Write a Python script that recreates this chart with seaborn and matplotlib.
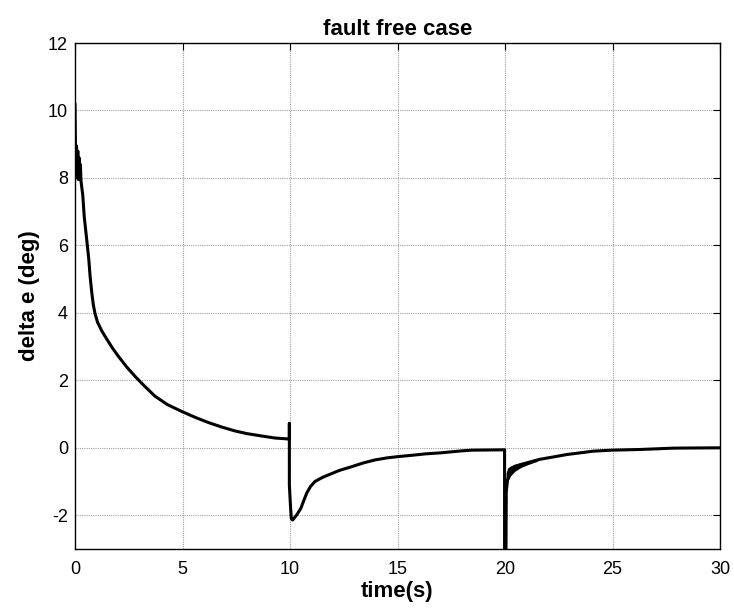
import numpy as np
import pandas as pd
import matplotlib
matplotlib.use("Agg")
import matplotlib.pyplot as plt
import seaborn as sns

# ---- data ----
time_s = [0.0, 0.02, 0.04, 0.07, 0.10, 0.13, 0.16, 0.19, 0.22, 0.25, 0.28, 0.36, 0.43,
          0.54, 0.64, 0.70, 0.78, 0.85, 0.93, 1.05, 1.25, 1.50, 1.75, 2.02, 2.40, 2.79,
          3.20, 3.72, 4.30, 4.99, 5.60, 6.20, 6.80, 7.44, 8.00, 8.68, 9.30, 9.97,
          9.97, 9.97, 10.02, 10.06, 10.12, 10.2, 10.3, 10.5, 10.65, 10.78, 10.95, 11.16,
          11.5, 11.8, 12.3, 12.87, 13.4, 13.95, 14.5, 15.04, 15.7, 16.3, 17.0, 17.5,
          18.0, 18.45, 19.95,
          19.98, 19.98, 20.04, 20.06, 20.12, 20.23, 20.39, 20.70, 21.16, 21.63, 22.26,
          22.87, 23.49, 24.10, 24.96, 26.28, 27.83, 30.0]
delta_e = [10.2, 9.0, 8.1, 8.95, 8.0, 8.8, 7.95, 8.6, 7.95, 8.4, 7.9, 7.5, 6.85,
           6.2, 5.6, 5.1, 4.6, 4.25, 3.98, 3.72, 3.46, 3.2, 2.95, 2.71, 2.4, 2.12,
           1.85, 1.53, 1.28, 1.07, 0.9, 0.75, 0.62, 0.50, 0.42, 0.35, 0.29, 0.26,
           0.72, -1.1, -1.7, -2.1, -2.14, -2.08, -2.0, -1.8, -1.55, -1.34, -1.15, -1.0,
           -0.88, -0.80, -0.67, -0.56, -0.45, -0.36, -0.30, -0.26, -0.22, -0.18, -0.15, -0.12,
           -0.09, -0.07, -0.06,
           -0.06, -3.6, -3.6, -1.3, -0.95, -0.76, -0.64, -0.51, -0.42, -0.34, -0.27,
           -0.20, -0.15, -0.10, -0.07, -0.05, -0.01, 0.0]

# oscillation envelope after the step at t = 20 s
band_t = [20.05, 20.12, 20.25, 20.45, 20.75, 21.1, 21.5]
band_hi = [-0.75, -0.60, -0.54, -0.48, -0.43, -0.38, -0.34]
band_lo = [-1.40, -1.00, -0.84, -0.70, -0.58, -0.49, -0.40]

x_ticks = [0, 5, 10, 15, 20, 25, 30]
y_ticks = [-2, 0, 2, 4, 6, 8, 10, 12]

df = pd.DataFrame({"time": time_s, "delta": delta_e})

sns.set_theme(style="white")
plt.rcParams["font.family"] = ["Liberation Sans", "DejaVu Sans"]
plt.rcParams["text.color"] = "black"
plt.rcParams["axes.labelcolor"] = "black"

fig = plt.figure(figsize=(7.34, 6.14), dpi=100)
ax = fig.add_axes([75 / 734, 1 - 549 / 614, 645 / 734, 506 / 614])

sns.lineplot(data=df, x="time", y="delta", sort=False, estimator=None,
             color="black", linewidth=2.2, ax=ax)
ax.fill_between(band_t, band_lo, band_hi, color="black", linewidth=0)

ax.set_xlim(0, 30)
ax.set_ylim(-3, 12)
ax.set_xticks(x_ticks)
ax.set_yticks(y_ticks)
ax.set_xticklabels([str(v) for v in x_ticks])
ax.set_yticklabels([str(v) for v in y_ticks])

ax.grid(True, color="#a0a0a0", linestyle=(0, (1, 1)), linewidth=0.8)
for s in ax.spines.values():
    s.set_color("black")
    s.set_linewidth(1.0)
    s.set_visible(True)

ax.tick_params(axis="both", direction="in", top=True, right=True, length=5,
               width=0.8, color="black", labelsize=13, labelcolor="black")
ax.tick_params(axis="x", pad=9)
ax.tick_params(axis="y", pad=5)

ax.set_title("fault free case", fontsize=16, fontweight="bold", pad=6, color="black")
ax.set_xlabel("time(s)", fontsize=16, fontweight="bold", labelpad=2, color="black")
ax.set_ylabel("delta e (deg)", fontsize=16, fontweight="bold", labelpad=6, color="black")

fig.savefig("out.png", dpi=100)
